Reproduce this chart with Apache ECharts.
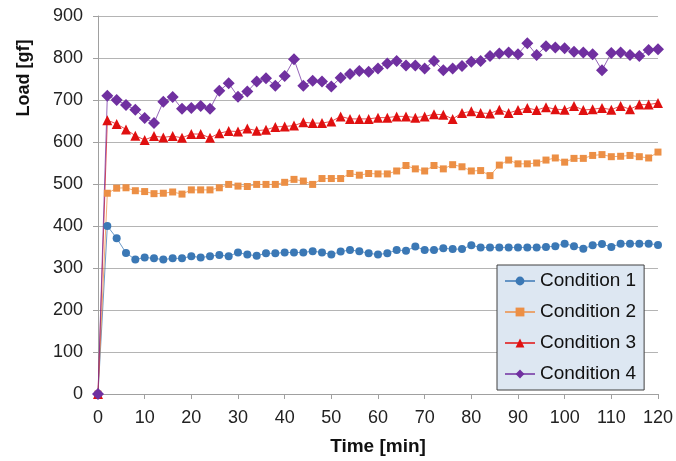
<!DOCTYPE html>
<html>
<head>
<meta charset="utf-8">
<script src="https://cdn.jsdelivr.net/npm/echarts@6/dist/echarts.min.js"></script>
<style>
  html, body { margin: 0; padding: 0; background: #fff; }
  #chart { width: 676px; height: 461px; }
</style>
</head>
<body>
<div id="chart"></div>
<script>
// time in minutes, one reading every 2 min
var times = [0, 2, 4, 6, 8, 10, 12, 14, 16, 18, 20, 22, 24, 26, 28, 30, 32, 34, 36, 38, 40,
  42, 44, 46, 48, 50, 52, 54, 56, 58, 60, 62, 64, 66, 68, 70, 72, 74, 76, 78, 80,
  82, 84, 86, 88, 90, 92, 94, 96, 98, 100, 102, 104, 106, 108, 110, 112, 114, 116, 118, 120];

var cond1 = [0, 400, 371, 336, 320, 325, 323, 320, 323, 323, 328, 325, 328, 331, 328, 337, 332, 329, 335, 335, 337,
  337, 337, 340, 337, 332, 339, 343, 340, 335, 332, 335, 343, 341, 351, 343, 343, 347, 345, 345, 354,
  349, 349, 349, 349, 349, 349, 349, 350, 352, 358, 352, 346, 354, 357, 350, 358, 358, 358, 358, 355];

var cond2 = [0, 478, 490, 491, 484, 482, 477, 478, 481, 476, 486, 486, 486, 491, 499, 495, 494, 499, 499, 499, 504,
  511, 507, 499, 513, 513, 513, 525, 521, 525, 524, 524, 531, 544, 536, 531, 544, 536, 546, 541, 531,
  532, 520, 545, 557, 548, 548, 550, 557, 562, 552, 561, 561, 568, 570, 565, 566, 568, 565, 562, 576];

var cond3 = [0, 652, 643, 630, 615, 605, 614, 611, 614, 610, 619, 619, 610, 621, 626, 625, 632, 627, 629, 636, 637,
  639, 647, 645, 645, 649, 661, 655, 655, 655, 658, 658, 661, 661, 658, 661, 666, 665, 655, 669, 673,
  669, 668, 677, 669, 676, 681, 676, 683, 678, 677, 686, 676, 678, 681, 677, 686, 678, 689, 689, 693];

var cond4 = [0, 710, 700, 688, 677, 657, 645, 696, 707, 679, 681, 686, 679, 722, 740, 708, 720, 744, 752, 734, 757,
  797, 734, 746, 744, 732, 753, 762, 769, 767, 775, 787, 793, 782, 782, 775, 793, 771, 775, 781, 791,
  793, 805, 811, 813, 809, 835, 807, 828, 825, 823, 815, 813, 809, 771, 812, 813, 807, 805, 819, 821];

var names = ['Condition 1', 'Condition 2', 'Condition 3', 'Condition 4'];
var colors = ['#3b78b5', '#ec8f45', '#e01010', '#7030a0'];
var symbols = ['circle', 'rect', 'triangle', 'diamond'];
var symbolSizes = [8, 7, 10, 12];
var values = [cond1, cond2, cond3, cond4];

function pairs(vals) {
  return times.map(function (t, i) { return [t, vals[i]]; });
}

var series = values.map(function (vals, k) {
  return {
    name: names[k],
    type: 'line',
    data: pairs(vals),
    symbol: symbols[k],
    symbolSize: symbolSizes[k],
    showAllSymbol: true,
    itemStyle: { color: colors[k] },
    lineStyle: { color: colors[k], width: 1, opacity: 0.75 },
    emphasis: { disabled: true },
    animation: false
  };
});

var chart = echarts.init(document.getElementById('chart'), null, { renderer: 'canvas' });

var font = '"Liberation Sans", Arial, sans-serif';

chart.setOption({
  animation: false,
  textStyle: { fontFamily: font },
  grid: { left: 98, right: 17, top: 16, bottom: 65, containLabel: false },
  xAxis: {
    type: 'value',
    min: 0,
    max: 120,
    interval: 10,
    name: 'Time [min]',
    nameLocation: 'middle',
    nameGap: 43,
    nameTextStyle: { fontFamily: font, fontSize: 19, fontWeight: 'bold', color: '#111' },
    axisLine: { show: true, lineStyle: { color: '#a0a0a0', width: 1 } },
    axisTick: { show: true, length: 5, lineStyle: { color: '#a0a0a0' } },
    axisLabel: { fontFamily: font, fontSize: 18, color: '#222', margin: 15 },
    splitLine: { show: false }
  },
  yAxis: {
    type: 'value',
    min: 0,
    max: 900,
    interval: 100,
    axisLine: { show: true, lineStyle: { color: '#a0a0a0', width: 1 } },
    axisTick: { show: true, length: 5, lineStyle: { color: '#a0a0a0' } },
    axisLabel: { fontFamily: font, fontSize: 18, color: '#222', margin: 15 },
    splitLine: { show: true, lineStyle: { color: '#b4b4b4', width: 1 } }
  },
  graphic: [{
    type: 'text',
    x: 24,
    y: 78,
    rotation: Math.PI / 2,
    style: {
      text: 'Load [gf]',
      fontFamily: font,
      fontSize: 18,
      fontWeight: 'bold',
      fill: '#111',
      textAlign: 'center',
      textVerticalAlign: 'middle'
    }
  }],
  legend: {
    data: names,
    orient: 'vertical',
    left: 497,
    top: 265,
    width: 148,
    padding: [6, 8, 6, 7],
    itemGap: 11,
    itemWidth: 30,
    itemHeight: 11,
    backgroundColor: '#dde7f2',
    borderColor: '#404040',
    borderWidth: 1,
    borderRadius: 0,
    textStyle: { fontFamily: font, fontSize: 19, color: '#111', lineHeight: 20 },
    selectedMode: false
  },
  series: series
});
</script>
</body>
</html>
